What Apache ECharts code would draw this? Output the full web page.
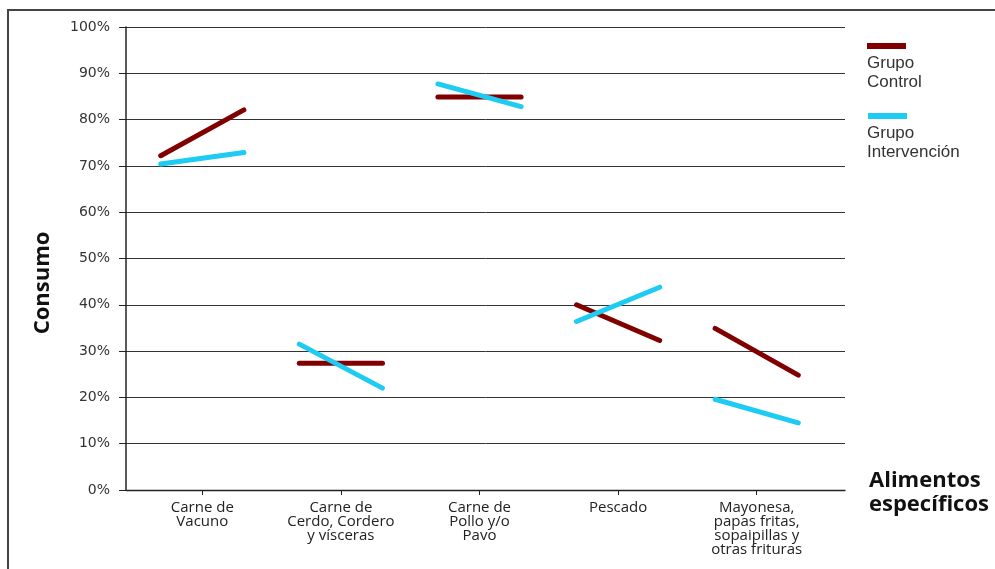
<!DOCTYPE html>
<html><head><meta charset="utf-8">
<script src="https://cdn.jsdelivr.net/npm/echarts/dist/echarts.min.js"></script>
<style>html,body{margin:0;padding:0;background:#fff}#c{width:995px;height:569px}</style>
</head><body><div id="c"></div>
<script>
const categories = ['Carne de\nVacuno', 'Carne de\nCerdo, Cordero\ny vísceras', 'Carne de\nPollo y/o\nPavo', 'Pescado', 'Mayonesa,\npapas fritas,\nsopaipillas y\notras frituras'];
const controlBefore = [72.2, 27.4, 84.9, 40.0, 34.9];
const controlAfter  = [82.1, 27.4, 84.9, 32.3, 24.8];
const intervBefore  = [70.4, 31.5, 87.7, 36.4, 19.6];
const intervAfter   = [72.9, 22.0, 82.8, 43.8, 14.5];
const groupNames = ['Grupo\nControl', 'Grupo\nIntervención'];
const yAxisTitle = 'Consumo';
const xAxisTitle = 'Alimentos\nespecíficos';

const colControl = '#800000';
const colInterv = '#1ECBF2';
const half = 0.3;

const series = [];
function addGroup(name, before, after, color) {
  before.forEach((v, i) => {
    series.push({
      name: name, type: 'line', xAxisIndex: 2, yAxisIndex: 1,
      data: [[i + 1 - half, v], [i + 1 + half, after[i]]],
      symbol: 'none', silent: true,
      lineStyle: { color: color, width: 5, cap: 'round' },
      z: 5
    });
  });
}
addGroup(groupNames[0], controlBefore, controlAfter, colControl);
addGroup(groupNames[1], intervBefore, intervAfter, colInterv);

const chart = echarts.init(document.getElementById('c'), null, { renderer: 'canvas' });
chart.setOption({
  animation: false,
  backgroundColor: '#fff',
  grid: [
    { left: 126, right: 150, top: 27, bottom: 79 },
    { left: 133, right: 169, top: 27, bottom: 79 }
  ],
  xAxis: [
    { type: 'value', gridIndex: 0, min: 0, max: 1,
      axisLine: { show: true, lineStyle: { color: '#222', width: 1.3 } },
      axisTick: { show: false }, axisLabel: { show: false }, splitLine: { show: false } },
    { type: 'category', gridIndex: 1, data: categories, boundaryGap: true,
      axisLine: { show: false },
      axisTick: { show: true, alignWithLabel: true, length: 5, lineStyle: { color: '#222' } },
      axisLabel: { interval: 0, margin: 11, color: '#222', fontFamily: 'Open Sans', fontSize: 15, lineHeight: 14, align: 'center' },
      splitLine: { show: false } },
    { type: 'value', gridIndex: 1, min: 0.5, max: 5.5, show: false, splitLine: { show: false } }
  ],
  yAxis: [
    { type: 'value', gridIndex: 0, min: 0, max: 100, interval: 10,
      axisLine: { show: true, lineStyle: { color: '#222', width: 1.5 } },
      axisTick: { show: true, length: 7, lineStyle: { color: '#222' } },
      axisLabel: { formatter: '{value}%', margin: 16, color: '#333', fontFamily: 'DejaVu Sans', fontSize: 14 },
      splitLine: { show: true, lineStyle: { color: '#333', width: 1 } } },
    { type: 'value', gridIndex: 1, min: 0, max: 100, show: false, splitLine: { show: false } }
  ],
  series: series,
  graphic: [
    { type: 'rect', shape: { x: 8, y: 10, width: 1000, height: 600 }, style: { fill: 'none', stroke: '#444', lineWidth: 2 }, z: 0, silent: true },
    { type: 'text', x: 43, y: 283, rotation: Math.PI / 2,
      style: { text: yAxisTitle, fontFamily: 'Open Sans', fontWeight: 'bold', fontSize: 22, fill: '#111', align: 'center', verticalAlign: 'middle' } },
    { type: 'text', x: 869, y: 469,
      style: { text: xAxisTitle, fontFamily: 'Open Sans', fontWeight: 'bold', fontSize: 22, lineHeight: 24, fill: '#111', align: 'left', verticalAlign: 'top' } },
    { type: 'rect', shape: { x: 867, y: 43, width: 39, height: 6 }, style: { fill: colControl } },
    { type: 'text', x: 867, y: 54,
      style: { text: groupNames[0], fontFamily: 'Liberation Sans', fontSize: 17, lineHeight: 19, fill: '#333', align: 'left', verticalAlign: 'top' } },
    { type: 'rect', shape: { x: 868, y: 113, width: 39, height: 6 }, style: { fill: colInterv } },
    { type: 'text', x: 867, y: 124,
      style: { text: groupNames[1], fontFamily: 'Liberation Sans', fontSize: 17, lineHeight: 19, fill: '#333', align: 'left', verticalAlign: 'top' } }
  ]
});
</script></body></html>
